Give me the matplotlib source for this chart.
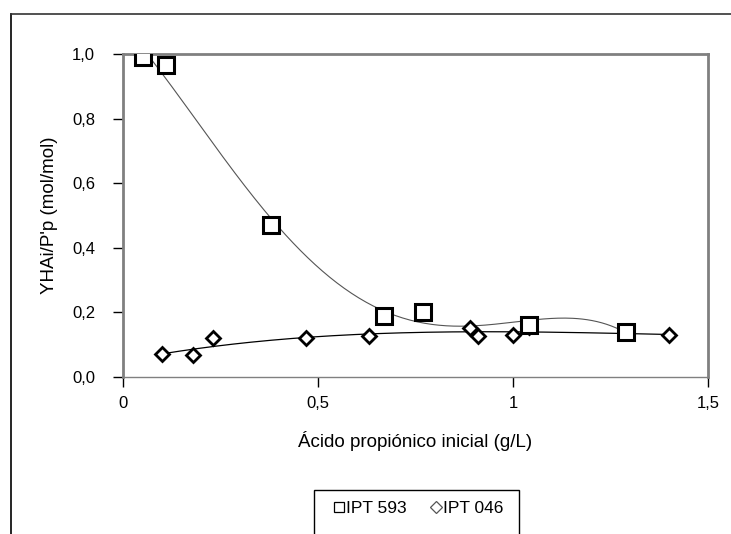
import numpy as np
import matplotlib.pyplot as plt
from matplotlib.lines import Line2D
from matplotlib.patches import Rectangle

plt.rcParams['font.family'] = ['Liberation Sans', 'DejaVu Sans']

# IPT 593 (squares)
x593 = [0.05, 0.11, 0.38, 0.67, 0.77, 1.04, 1.29]
y593 = [0.99, 0.965, 0.47, 0.19, 0.20, 0.16, 0.14]

# IPT 046 (diamonds)
x046 = [0.10, 0.18, 0.23, 0.47, 0.63, 0.89, 0.91, 1.00, 1.04, 1.40]
y046 = [0.07, 0.068, 0.12, 0.12, 0.127, 0.152, 0.127, 0.13, 0.155, 0.13]

xticks = [0, 0.5, 1, 1.5]
xtick_labels = ['0', '0,5', '1', '1,5']
yticks = [0, 0.2, 0.4, 0.6, 0.8, 1.0]
ytick_labels = ['0,0', '0,2', '0,4', '0,6', '0,8', '1,0']

W, H = 731, 534
fig = plt.figure(figsize=(W / 100, H / 100), dpi=100)
ax = fig.add_axes([123 / W, 1 - 377 / H, (708 - 123) / W, (377 - 54) / H])

# trend lines (polynomial fits, as in the spreadsheet)
p593 = np.polyfit(x593, y593, 4)
xs = np.linspace(min(x593), max(x593), 200)
ax.plot(xs, np.polyval(p593, xs), color='#555555', lw=0.8, zorder=2)

p046 = np.polyfit(x046, y046, 3)
xs = np.linspace(min(x046), max(x046), 200)
ax.plot(xs, np.polyval(p046, xs), color='black', lw=0.9, zorder=2)

ax.plot(x593, y593, ls='none', marker='s', ms=11, mfc='white', mec='black',
        mew=2.2, zorder=4)
ax.plot(x046, y046, ls='none', marker='D', ms=7, mfc='white', mec='black',
        mew=2, zorder=3)

ax.set_xlim(0, 1.5)
ax.set_ylim(0, 1.0)
ax.set_xticks(xticks)
ax.set_xticklabels(xtick_labels)
ax.set_yticks(yticks)
ax.set_yticklabels(ytick_labels)
ax.tick_params(axis='both', labelsize=12, colors='black', length=7, width=1,
               direction='out')
ax.tick_params(axis='y', pad=13)
ax.tick_params(axis='x', pad=7)
for s in ['top', 'right', 'left']:
    ax.spines[s].set_color('#808080')
    ax.spines[s].set_linewidth(2)
ax.spines['bottom'].set_color('#808080')
ax.spines['bottom'].set_linewidth(1)

ax.set_ylabel("YHAi/P'p (mol/mol)", fontsize=13.5, labelpad=10)
ax.set_xlabel('Ácido propiónico inicial (g/L)', fontsize=13.5, labelpad=14)

# outer chart border (cropped on right and bottom)
fig.add_artist(Line2D([11 / W, 11 / W], [0, 1 - 14 / H], color='black', lw=1.2))
fig.add_artist(Line2D([11 / W, 1], [1 - 14 / H, 1 - 14 / H], color='#333333', lw=1.2))

# legend box
fig.add_artist(Rectangle((314 / W, -0.05), (519 - 314) / W, 1 - 490 / H + 0.05,
                         transform=fig.transFigure, fill=False, ec='black', lw=1))
handles = [
    Line2D([], [], ls='none', marker='s', ms=7, mfc='white', mec='black', mew=0.9),
    Line2D([], [], ls='none', marker='D', ms=6, mfc='white', mec='#555555', mew=0.9),
]
fig.legend(handles, ['IPT 593', 'IPT 046'], loc='center', ncol=2,
           bbox_to_anchor=(419 / W, 1 - 508 / H), frameon=False, fontsize=12.5,
           handlelength=0.6, handletextpad=0.1, columnspacing=1.4)

fig.savefig('out.png', dpi=100)
